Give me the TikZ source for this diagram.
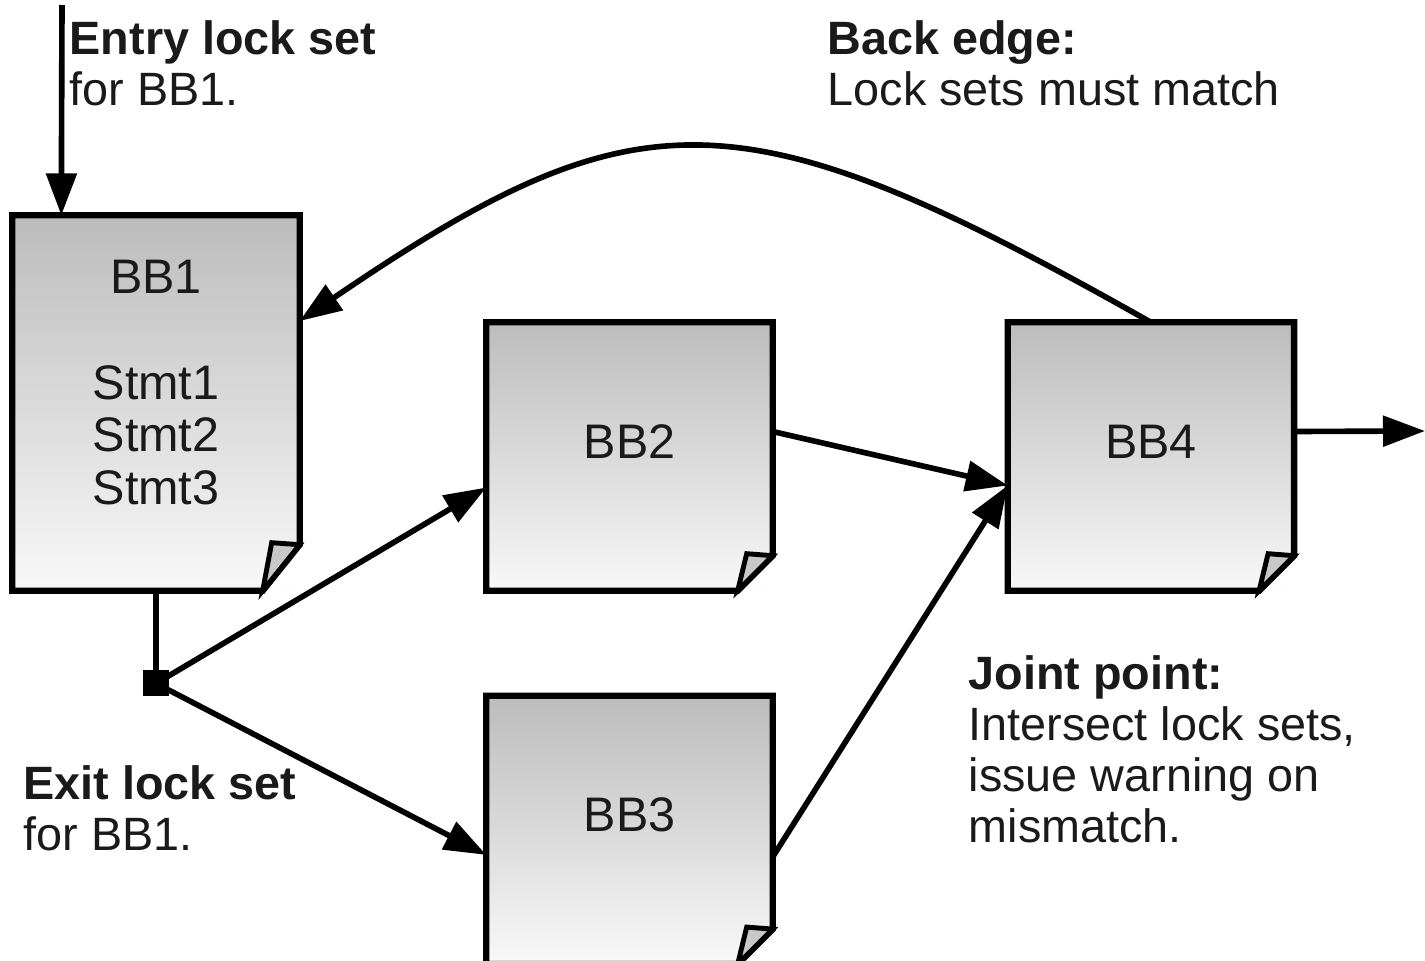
\documentclass[tikz,border=0pt]{standalone}
\usepackage{fontspec}
\setmainfont{Liberation Sans}
\usetikzlibrary{arrows.meta,positioning}

\definecolor{boxtop}{RGB}{188,188,188}
\definecolor{boxbot}{RGB}{248,248,248}
\definecolor{foldgray}{RGB}{200,200,200}
\definecolor{ink}{RGB}{26,26,26}

\begin{document}
\begin{tikzpicture}[
    node distance=1.05cm,
    bbox/.style={rectangle, inner sep=0pt, minimum width=2.85cm, minimum height=2.67cm, top color=boxtop, bottom color=boxbot, align=center, text depth=0.3cm, font=\fontsize{13.8}{15}\selectfont, text=ink},
    note/.style={anchor=north west, inner sep=0pt, align=left, font=\fontsize{13.3}{14.5}\selectfont, text=ink},
    edge/.style={line width=1.6pt, -{Triangle[length=0.42cm, width=0.3cm]}},
    border/.style={line width=1.8pt, line join=miter}
  ]
  \useasboundingbox (0,0) rectangle (14.25,-9.61);

  % basic blocks
  \node[bbox, minimum width=2.86cm, minimum height=3.74cm, text depth=0.41cm] (bb1) at (1.56,-4.03) {BB1\\[15pt]Stmt1\\Stmt2\\Stmt3};
  \node[bbox] (bb2) at (6.295,-4.565) {BB2};
  \node[bbox, below=of bb2] (bb3) {BB3};
  \node[bbox, right=2.35cm of bb2] (bb4) {BB4};

  % outlines with the folded corner
  \foreach \n/\cx/\cy in {bb1/0.37/0.46, bb2/0.35/0.35, bb3/0.35/0.35, bb4/0.35/0.35} {
    \fill[white] ([xshift=-\cx cm]\n.south east) -- (\n.south east) -- ([yshift=\cy cm]\n.south east) -- cycle;
    \draw[border] (\n.north west) -- (\n.north east) -- ([yshift=\cy cm]\n.south east) -- ([xshift=-\cx cm]\n.south east) -- (\n.south west) -- cycle;
    \filldraw[border, fill=foldgray, line width=1.4pt] ([xshift=-\cx cm]\n.south east) -- ([shift={(-\cx+0.09,\cy+0.02)}]\n.south east) -- ([yshift=\cy cm]\n.south east) -- cycle;
  }

  % connectors
  \coordinate (entry) at (0.62,-0.05);
  \coordinate (out) at (14.25,-4.31);
  \node[fill=black, minimum size=0.26cm, inner sep=0pt, below=0.79cm of bb1] (split) {};

  \draw[edge] (entry) -- ([xshift=0.49cm]bb1.north west);
  \draw[line width=1.6pt] (bb1.south) -- (split);
  \draw[edge] (split.center) -- ([yshift=-0.31cm]bb2.west);
  \draw[edge] (split.center) -- ([yshift=-0.25cm]bb3.west);
  \draw[edge] ([yshift=0.25cm]bb2.east) -- ([yshift=-0.29cm]bb4.west);
  \draw[edge] ([yshift=-0.27cm]bb3.east) -- ([yshift=-0.29cm]bb4.west);
  \draw[edge] ([yshift=0.25cm]bb4.east) -- (out);
  \draw[edge] (bb4.north) .. controls (7.40,-0.90) and (6.39,-0.90) .. ([yshift=0.82cm]bb1.east);

  % annotations
  \node[note] (entrynote) at (0.69,-0.20) {\textbf{Entry lock set}\\for BB1.};
  \node[note] (backnote) at (8.27,-0.20) {\textbf{Back edge:}\\Lock sets must match};
  \node[note] (jointnote) at (9.68,-6.55) {\textbf{Joint point:}\\Intersect lock sets,\\issue warning on\\mismatch.};
  \node[note] (exitnote) at (0.23,-7.65) {\textbf{Exit lock set}\\for BB1.};
\end{tikzpicture}
\end{document}
